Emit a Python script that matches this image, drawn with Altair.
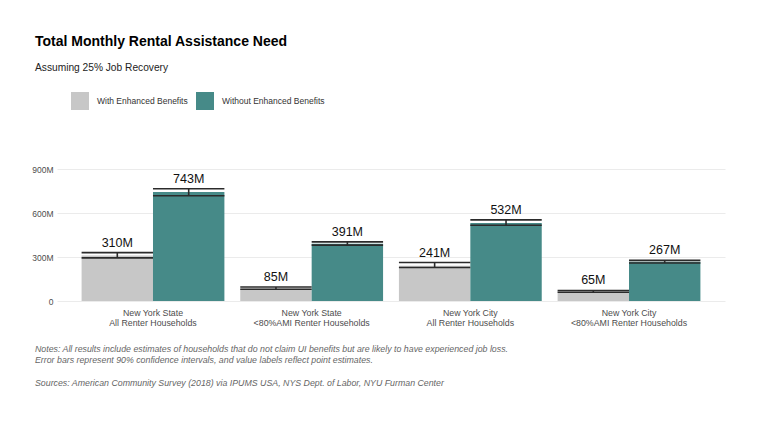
import altair as alt
import pandas as pd

# ---- data ----
groups = [
    "New York State|All Renter Households",
    "New York State|<80%AMI Renter Households",
    "New York City|All Renter Households",
    "New York City|<80%AMI Renter Households",
]
series = ["With Enhanced Benefits", "Without Enhanced Benefits"]
with_vals = [310, 85, 241, 65]
with_lo = [294, 80, 228, 60]
with_hi = [330, 95, 262, 72]
without_vals = [743, 391, 532, 267]
without_lo = [718, 381, 516, 259]
without_hi = [765, 403, 553, 277]
y_ticks = [0, 300, 600, 900]
colors = ["#C7C7C7", "#468A88"]

title_text = "Total Monthly Rental Assistance Need"
subtitle_text = "Assuming 25% Job Recovery"
note1 = "Notes: All results include estimates of households that do not claim UI benefits but are likely to have experienced job loss."
note2 = "Error bars represent 90% confidence intervals, and value labels reflect point estimates."
note3 = "Sources: American Community Survey (2018) via IPUMS USA, NYS Dept. of Labor, NYU Furman Center"

rows = []
for i, g in enumerate(groups):
    rows.append(dict(group=g, series=series[0], value=with_vals[i], lo=with_lo[i], hi=with_hi[i]))
    rows.append(dict(group=g, series=series[1], value=without_vals[i], lo=without_lo[i], hi=without_hi[i]))
df = pd.DataFrame(rows)
df["label"] = df["value"].astype(str) + "M"

FONT = "Liberation Sans"
ERR = "#2b2b2b"

base = alt.Chart(df).encode(
    x=alt.X(
        "group:N",
        sort=groups,
        scale=alt.Scale(paddingInner=0.1, paddingOuter=0.155),
        axis=alt.Axis(
            title=None,
            labelExpr="split(datum.label, '|')",
            labelAngle=0,
            ticks=False,
            domain=False,
            grid=False,
            labelFont=FONT,
            labelFontSize=8.8,
            labelColor="#4d4d4d",
            labelPadding=7,
            labelLineHeight=10,
        ),
    ),
    xOffset=alt.XOffset("series:N", sort=series, scale=alt.Scale(paddingInner=0, paddingOuter=0)),
)

bars = base.mark_bar().encode(
    y=alt.Y(
        "value:Q",
        scale=alt.Scale(domain=[0, 900], nice=False),
        axis=alt.Axis(
            title=None,
            values=y_ticks,
            labelExpr="datum.value == 0 ? '0' : datum.value + 'M'",
            ticks=False,
            domain=False,
            grid=True,
            gridColor="#ebebeb",
            gridWidth=1,
            labelFont=FONT,
            labelFontSize=8.5,
            labelColor="#4d4d4d",
            labelPadding=4,
        ),
    ),
    color=alt.Color(
        "series:N",
        sort=series,
        scale=alt.Scale(domain=series, range=colors),
        legend=alt.Legend(
            title=None,
            orient="none",
            legendX=14,
            legendY=-77,
            direction="horizontal",
            symbolType="square",
            symbolSize=324,
            symbolStrokeWidth=0,
            symbolOpacity=1,
            labelFont=FONT,
            labelFontSize=8.5,
            labelColor="#333333",
            labelOffset=8,
            columnPadding=8,
        ),
    ),
)

whisk_lo = base.mark_bar(fill=None, stroke=ERR, strokeWidth=1.6).encode(
    y="lo:Q", y2="lo:Q"
)
whisk_hi = base.mark_bar(fill=None, stroke=ERR, strokeWidth=1.6).encode(
    y="hi:Q", y2="hi:Q"
)
stem = base.mark_rule(color=ERR, strokeWidth=1.6).encode(y="lo:Q", y2="hi:Q")

labels = base.mark_text(
    dy=-3, baseline="bottom", fontSize=12.5, font=FONT, color="#111111"
).encode(y="hi:Q", text="label:N")


def txt(t, x, y, size, color, weight="normal", style="normal"):
    return alt.Chart(pd.DataFrame({"t": [t]})).mark_text(
        align="left",
        baseline="alphabetic",
        font=FONT,
        fontSize=size,
        fontWeight=weight,
        fontStyle=style,
        color=color,
    ).encode(text="t:N", x=alt.value(x), y=alt.value(y))


annotations = [
    txt(title_text, -22, -123, 14, "#000000", weight="bold"),
    txt(subtitle_text, -22, -98, 10.2, "#222222"),
    txt(note1, -22, 183, 8.8, "#666666", style="italic"),
    txt(note2, -22, 194, 8.8, "#666666", style="italic"),
    txt(note3, -22, 217, 8.8, "#666666", style="italic"),
]

chart = alt.layer(bars, whisk_lo, whisk_hi, stem, labels, *annotations).properties(
    width=668,
    height=132,
    autosize=alt.AutoSizeParams(type="none"),
    padding={"left": 57, "top": 169, "right": 35, "bottom": 121},
    background="white",
).configure_view(stroke=None)

chart.save("out.html", embed_options={"renderer": "svg", "actions": False})
